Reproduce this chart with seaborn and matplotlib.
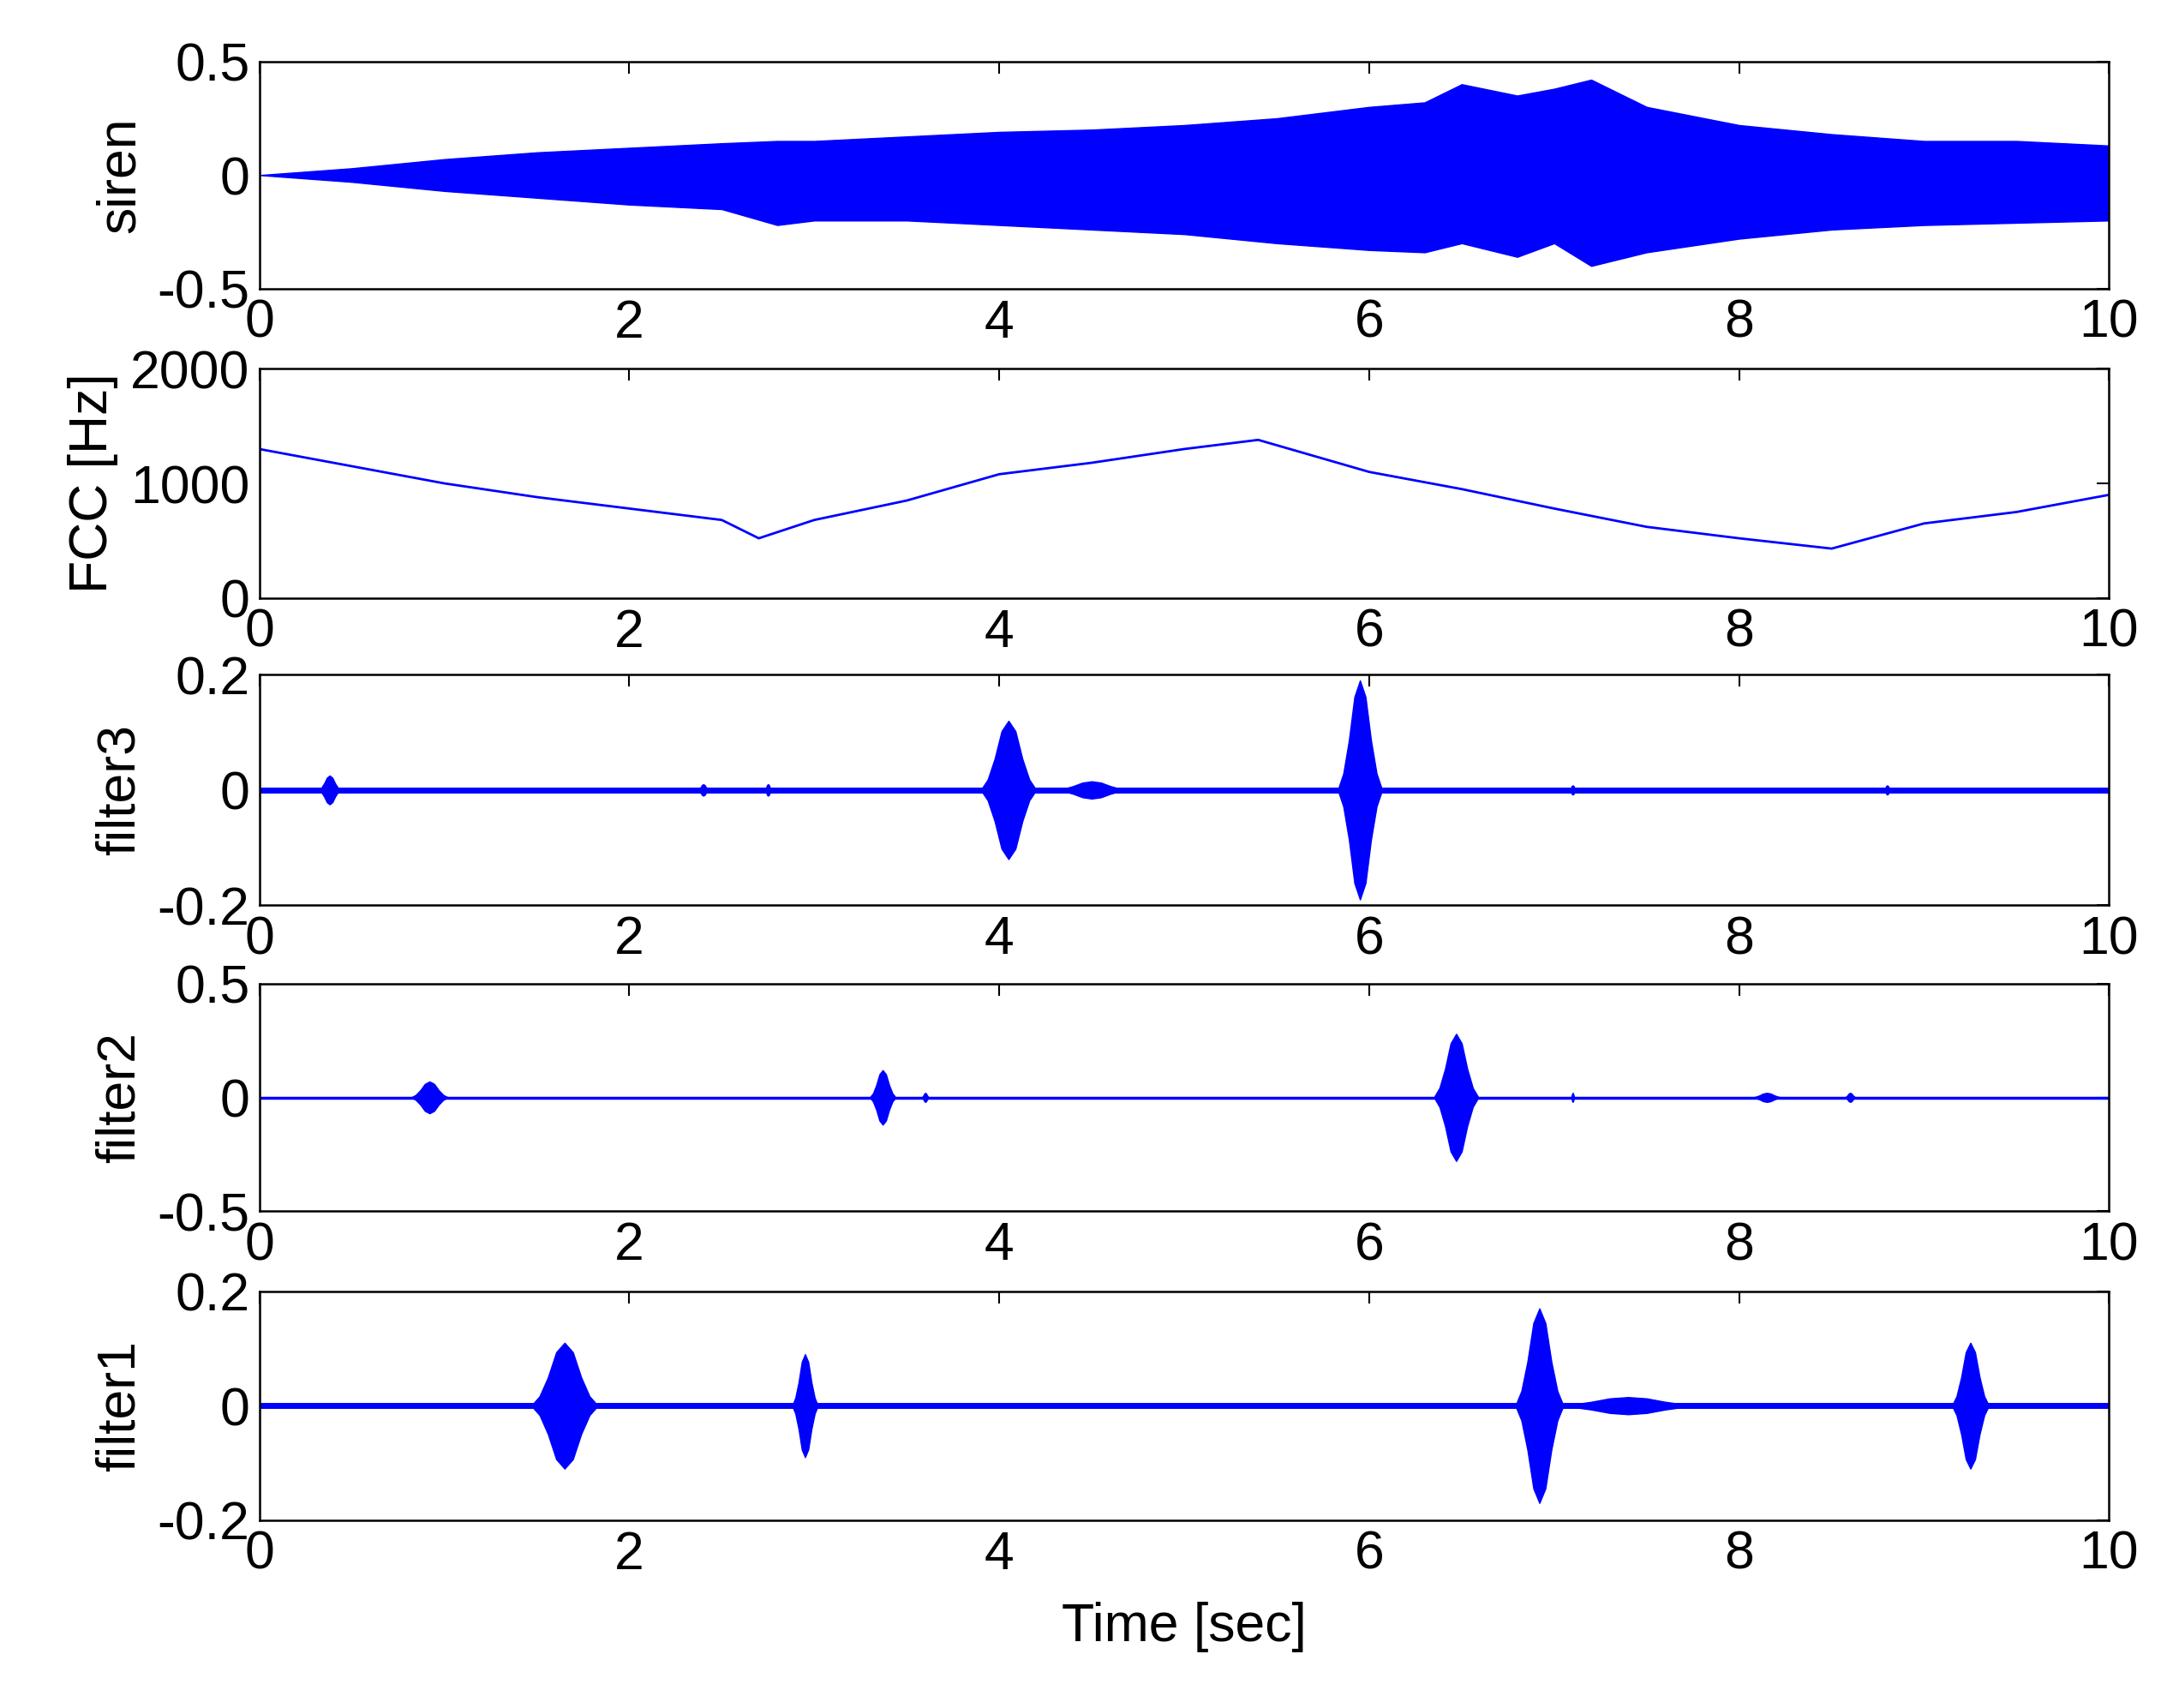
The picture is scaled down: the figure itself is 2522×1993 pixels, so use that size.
import matplotlib
matplotlib.use("Agg")
import matplotlib.pyplot as plt
import seaborn as sns
import numpy as np

sns.set_style("white")
plt.rcParams["font.family"] = "Liberation Sans"
plt.rcParams["font.size"] = 45
plt.rcParams["text.color"] = "black"
plt.rcParams["axes.labelcolor"] = "black"
plt.rcParams["xtick.color"] = "black"
plt.rcParams["ytick.color"] = "black"

siren_t = [0,0.5,1,1.5,2,2.5,2.8,3,3.5,4,4.5,5,5.5,6,6.3,6.5,6.8,7,7.2,7.5,8,8.5,9,9.5,10]
siren_up = [0,0.03,0.07,0.1,0.12,0.14,0.15,0.15,0.17,0.19,0.2,0.22,0.25,0.3,0.32,0.4,0.35,0.38,0.42,0.3,0.22,0.18,0.15,0.15,0.13]
siren_lo = [0,-0.03,-0.07,-0.1,-0.13,-0.15,-0.22,-0.2,-0.2,-0.22,-0.24,-0.26,-0.3,-0.33,-0.34,-0.3,-0.36,-0.3,-0.4,-0.34,-0.28,-0.24,-0.22,-0.21,-0.2]

fcc_t = [0,0.5,1,1.5,2,2.5,2.7,3,3.5,4,4.5,5,5.4,6,6.5,7,7.5,8,8.5,9,9.5,10]
fcc_v = [1300,1150,1000,880,780,680,520,680,850,1080,1180,1300,1380,1100,950,780,620,520,430,650,750,900]

burst_shape = [0, 0.15, 0.45, 0.85, 1.0, 0.85, 0.45, 0.15, 0]

f3_c = [0.38,2.4,2.75,4.05,4.5,5.95,7.1,8.8]
f3_w = [0.06,0.03,0.02,0.15,0.2,0.12,0.02,0.02]
f3_a = [0.025,0.01,0.01,0.12,0.015,0.19,0.008,0.008]
f2_c = [0.92,3.37,3.6,6.47,7.1,8.15,8.6]
f2_w = [0.1,0.07,0.02,0.12,0.01,0.08,0.03]
f2_a = [0.07,0.12,0.02,0.28,0.02,0.02,0.02]
f1_c = [1.65,2.95,6.92,7.4,9.25]
f1_w = [0.18,0.07,0.13,0.4,0.1]
f1_a = [0.11,0.09,0.17,0.015,0.11]

fig = plt.figure(figsize=(25.22, 19.93), dpi=100)
L, R = 0.12, 0.976
tops = [0.964, 0.784, 0.605, 0.424, 0.244]
bots = [0.831, 0.650, 0.470, 0.291, 0.110]
axes = [fig.add_axes([L, b, R - L, t - b]) for t, b in zip(tops, bots)]
blue = "#0000ff"

axes[0].fill_between(siren_t, siren_lo, siren_up, color=blue, lw=1)
sns.lineplot(x=fcc_t, y=fcc_v, ax=axes[1], color=blue, lw=2)

def bursts(ax, c, w, a, base):
    ax.plot([0, 10], [0, 0], color=blue, lw=base)
    n = len(burst_shape)
    for ci, wi, ai in zip(c, w, a):
        xs = [ci - wi + 2 * wi * k / (n - 1) for k in range(n)]
        ax.fill_between(xs, [-ai * s for s in burst_shape], [ai * s for s in burst_shape], color=blue, lw=1)

bursts(axes[2], f3_c, f3_w, f3_a, 5)
bursts(axes[3], f2_c, f2_w, f2_a, 2.5)
bursts(axes[4], f1_c, f1_w, f1_a, 5)

specs = [("siren", (-0.5, 0.5), [-0.5, 0, 0.5], ["-0.5", "0", "0.5"]),
         ("FCC [Hz]", (0, 2000), [0, 1000, 2000], ["0", "1000", "2000"]),
         ("filter3", (-0.2, 0.2), [-0.2, 0, 0.2], ["-0.2", "0", "0.2"]),
         ("filter2", (-0.5, 0.5), [-0.5, 0, 0.5], ["-0.5", "0", "0.5"]),
         ("filter1", (-0.2, 0.2), [-0.2, 0, 0.2], ["-0.2", "0", "0.2"])]
for ax, (lab, yl, yt, ytl) in zip(axes, specs):
    ax.set_xlim(0, 10)
    ax.set_ylim(*yl)
    ax.set_yticks(yt)
    ax.set_yticklabels(ytl)
    ax.set_xticks(range(0, 11, 2))
    ax.set_ylabel(lab, labelpad=10)
    ax.tick_params(direction="in", top=True, right=True, length=10, width=1.5, labelsize=45, pad=8, colors="black")
    for s in ax.spines.values():
        s.set_linewidth(1.8)
        s.set_color("black")
axes[4].set_xlabel("Time [sec]", labelpad=18)
fig.savefig("out.png", dpi=100, facecolor="white")
